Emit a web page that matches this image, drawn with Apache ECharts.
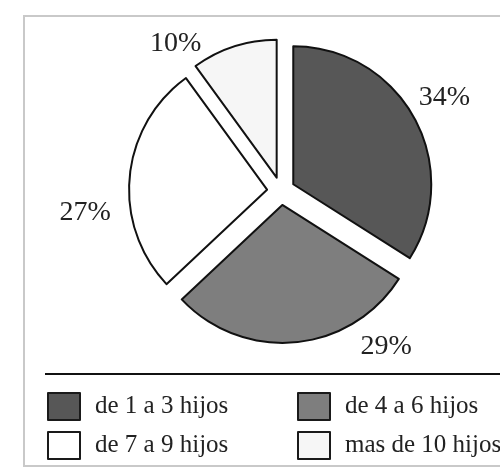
<!DOCTYPE html>
<html><head><meta charset="utf-8">
<script src="https://cdn.jsdelivr.net/npm/echarts@6/dist/echarts.min.js"></script>
<style>html,body{margin:0;padding:0;background:#fff}#c{width:500px;height:472px}</style>
</head><body><div id="c"></div>
<script>
const categories = ['de 1 a 3 hijos', 'de 4 a 6 hijos', 'de 7 a 9 hijos', 'mas de 10 hijos'];
const values = [34, 29, 27, 10];

const sliceColors = ['#575757', '#7e7e7e', '#ffffff', '#f6f6f6'];
const labelShift = [[-11, -14], [59, -8], [-2, 37], [-24, 9]];
const serif = '"Liberation Serif", "DejaVu Serif", serif';

const chart = echarts.init(document.getElementById('c'), null, {renderer: 'canvas'});

const data = categories.map((name, i) => ({
  name: name,
  value: values[i],
  selected: true,
  itemStyle: {color: sliceColors[i]}
}));

const legendBase = {
  orient: 'vertical',
  top: 392,
  padding: 0,
  itemWidth: 32,
  itemHeight: 27,
  itemGap: 10,
  icon: 'rect',
  selectedMode: false,
  itemStyle: {borderColor: '#1a1a1a', borderWidth: 2},
  textStyle: {fontFamily: serif, fontSize: 25, color: '#222', padding: [0, 0, 0, 10]}
};

chart.setOption({
  animation: false,
  backgroundColor: '#fff',
  legend: [
    Object.assign({}, legendBase, {left: 47, data: [categories[0], categories[2]]}),
    Object.assign({}, legendBase, {left: 297, data: [categories[1], categories[3]]})
  ],
  graphic: [
    {type: 'rect', silent: true, shape: {x: 24, y: 16, width: 490, height: 450},
     style: {fill: 'none', stroke: '#c9c9c9', lineWidth: 2}},
    {type: 'line', silent: true, shape: {x1: 45, y1: 374, x2: 500, y2: 374},
     style: {stroke: '#111', lineWidth: 2}}
  ],
  series: [{
    type: 'pie',
    center: [281, 191],
    radius: 138,
    startAngle: 90,
    clockwise: true,
    selectedMode: 'multiple',
    selectedOffset: 14,
    emphasis: {disabled: true},
    itemStyle: {borderColor: '#111', borderWidth: 2},
    label: {
      show: true,
      position: 'outside',
      formatter: '{c}%',
      fontFamily: serif,
      fontSize: 28,
      color: '#222'
    },
    labelLine: {show: false, length: 12, length2: 0},
    labelLayout: function (params) {
      const s = labelShift[params.dataIndex];
      return {dx: s[0], dy: s[1]};
    },
    data: data
  }]
});
</script>
</body></html>
